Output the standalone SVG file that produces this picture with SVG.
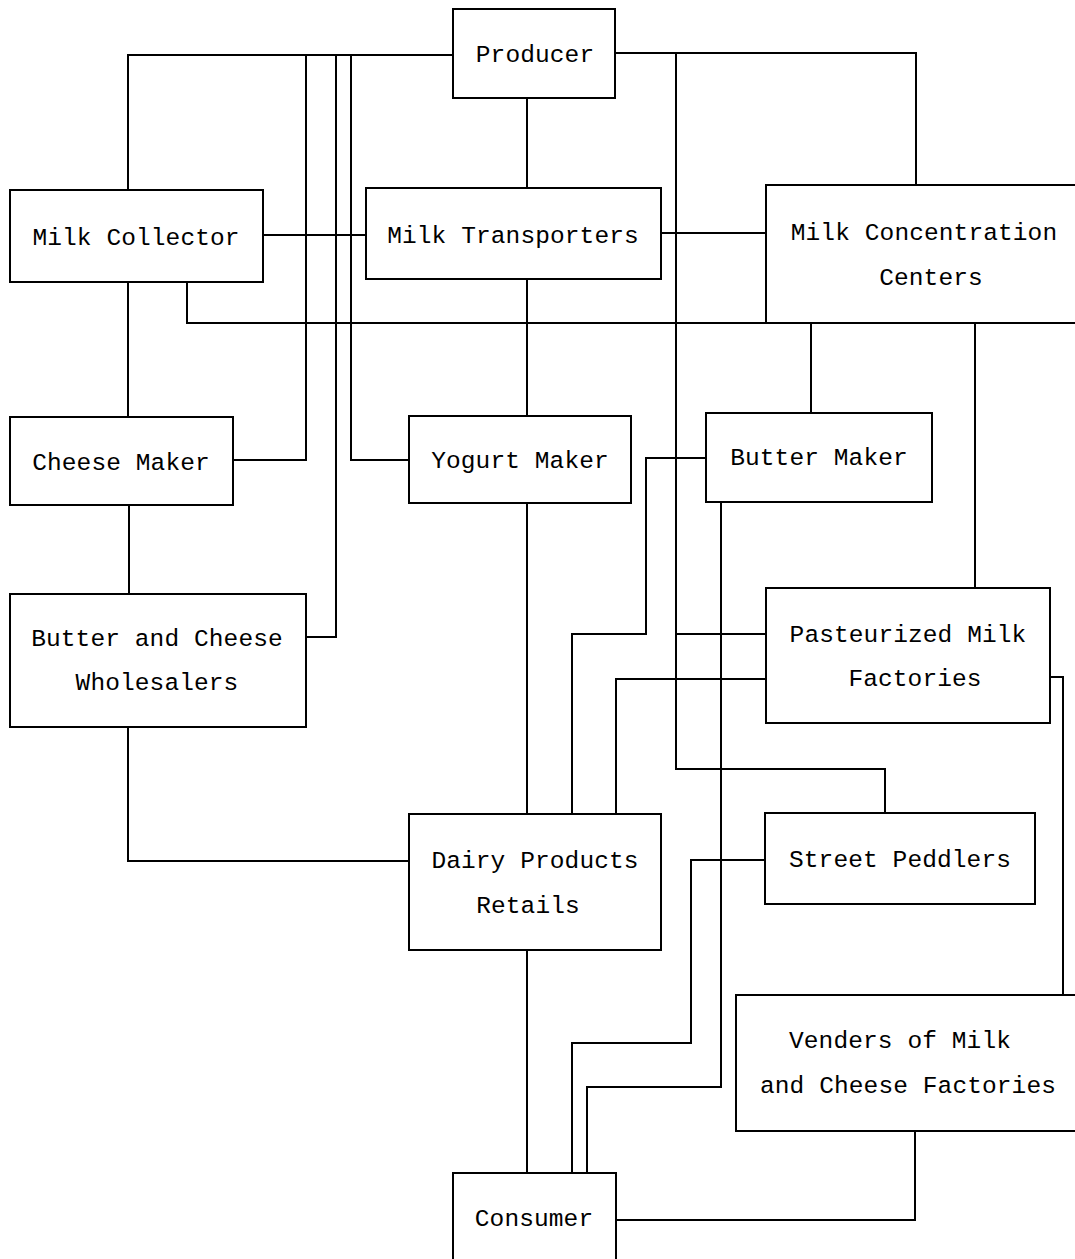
<svg xmlns="http://www.w3.org/2000/svg" width="1075" height="1259" viewBox="0 0 1075 1259">
<style>
.box{fill:#fff;stroke:#000;stroke-width:2}
.c{fill:none;stroke:#000;stroke-width:2;stroke-linejoin:miter}
text{font-family:"Liberation Mono","DejaVu Sans Mono",monospace;font-size:24.5px;letter-spacing:0.1px;fill:#000;text-anchor:middle}
</style>
<rect width="1075" height="1259" fill="#fff"/>
<g id="connectors">
<path class="c" d="M453,55 H128 V190"/>
<path class="c" d="M306,55 V460 H233"/>
<path class="c" d="M336,55 V637 H306"/>
<path class="c" d="M351,55 V460 H409"/>
<path class="c" d="M527,98 V188"/>
<path class="c" d="M615,53 H916 V185"/>
<path class="c" d="M676,53 V769 H885 V813"/>
<path class="c" d="M263,235 H366"/>
<path class="c" d="M661,233 H766"/>
<path class="c" d="M187,282 V323 H766"/>
<path class="c" d="M128,282 V417"/>
<path class="c" d="M527,279 V416"/>
<path class="c" d="M811,323 V413"/>
<path class="c" d="M975,323 V588"/>
<path class="c" d="M129,505 V594"/>
<path class="c" d="M527,503 V814"/>
<path class="c" d="M706,458 H646 V634 H572 V814"/>
<path class="c" d="M766,634 H676"/>
<path class="c" d="M766,679 H616 V814"/>
<path class="c" d="M721,502 V1087 H587 V1173"/>
<path class="c" d="M1050,677 H1063 V995"/>
<path class="c" d="M128,727 V861 H409"/>
<path class="c" d="M765,860 H691 V1043 H572 V1173"/>
<path class="c" d="M527,950 V1173"/>
<path class="c" d="M915,1131 V1220 H616"/>
</g>
<g id="producer"><rect class="box" x="453" y="9" width="162" height="89"/><text x="535" y="62">Producer</text></g>
<g id="milk-collector"><rect class="box" x="10" y="190" width="253" height="92"/><text x="136" y="245">Milk Collector</text></g>
<g id="milk-transporters"><rect class="box" x="366" y="188" width="295" height="91"/><text x="513" y="243">Milk Transporters</text></g>
<g id="milk-concentration-centers"><rect class="box" x="766" y="185" width="330" height="138"/><text x="924" y="240">Milk Concentration</text><text x="931" y="285">Centers</text></g>
<g id="cheese-maker"><rect class="box" x="10" y="417" width="223" height="88"/><text x="121" y="470">Cheese Maker</text></g>
<g id="yogurt-maker"><rect class="box" x="409" y="416" width="222" height="87"/><text x="520" y="468">Yogurt Maker</text></g>
<g id="butter-maker"><rect class="box" x="706" y="413" width="226" height="89"/><text x="819" y="465">Butter Maker</text></g>
<g id="butter-cheese-wholesalers"><rect class="box" x="10" y="594" width="296" height="133"/><text x="157" y="646">Butter and Cheese</text><text x="157" y="690">Wholesalers</text></g>
<g id="pasteurized-milk-factories"><rect class="box" x="766" y="588" width="284" height="135"/><text x="908" y="642">Pasteurized Milk</text><text x="915" y="686">Factories</text></g>
<g id="dairy-products-retails"><rect class="box" x="409" y="814" width="252" height="136"/><text x="535" y="868">Dairy Products</text><text x="528" y="913">Retails</text></g>
<g id="street-peddlers"><rect class="box" x="765" y="813" width="270" height="91"/><text x="900" y="867">Street Peddlers</text></g>
<g id="venders"><rect class="box" x="736" y="995" width="360" height="136"/><text x="900" y="1048">Venders of Milk</text><text x="908" y="1093">and Cheese Factories</text></g>
<g id="consumer"><rect class="box" x="453" y="1173" width="163" height="110"/><text x="534" y="1226">Consumer</text></g>
</svg>
